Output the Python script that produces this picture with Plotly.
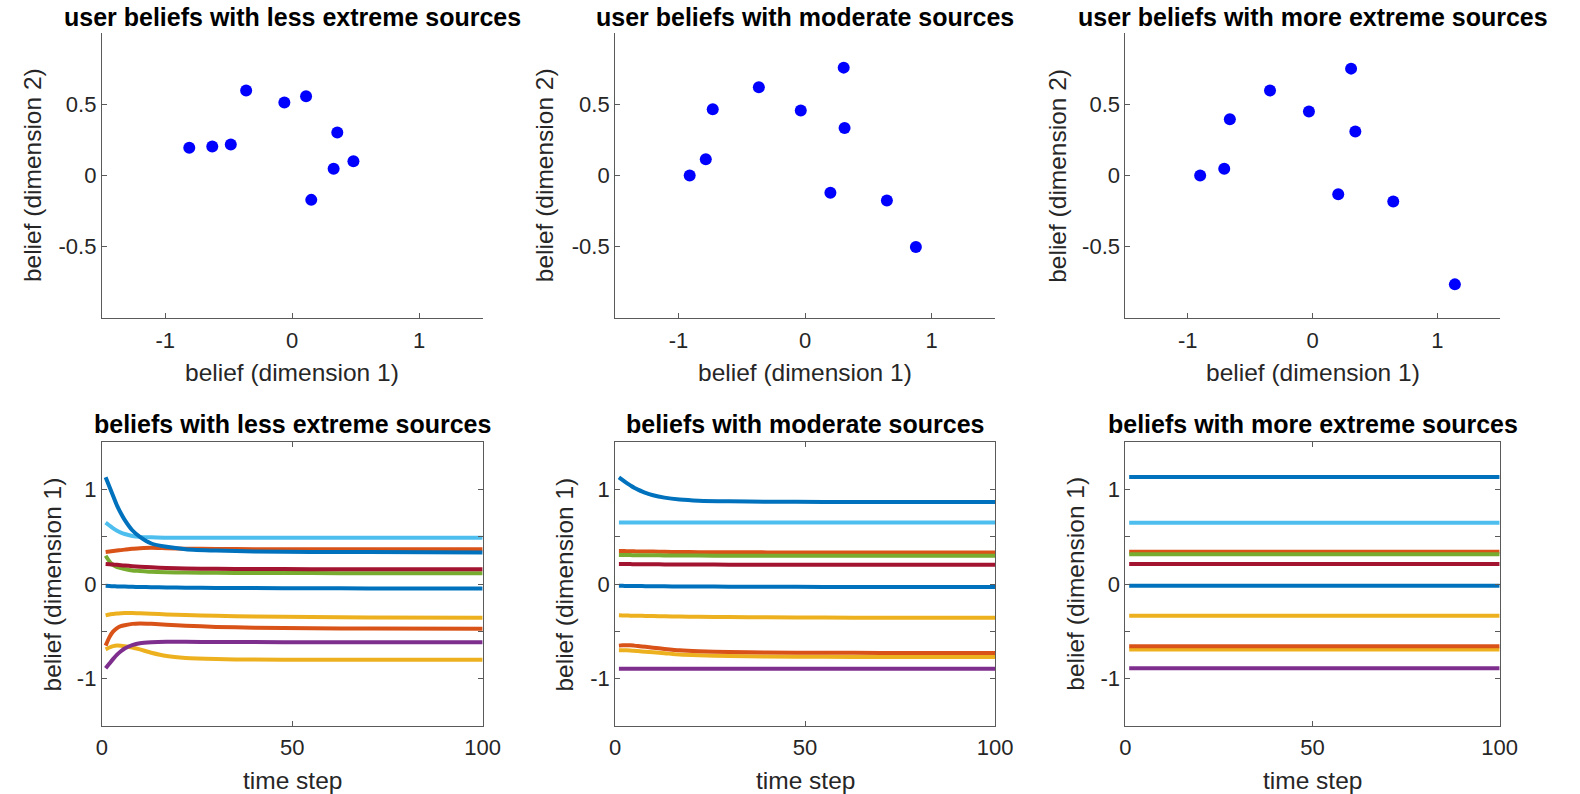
import plotly.graph_objects as go

# ---------------- data ----------------
scatter_titles = ["user beliefs with less extreme sources",
                  "user beliefs with moderate sources",
                  "user beliefs with more extreme sources"]
line_titles = ["beliefs with less extreme sources",
               "beliefs with moderate sources",
               "beliefs with more extreme sources"]

# final user beliefs (dimension 1, dimension 2)
less_dim1 = [-0.811, -0.630, -0.484, -0.363, -0.062, 0.109, 0.355, 0.482, 0.326, 0.150]
less_dim2 = [0.194, 0.203, 0.217, 0.596, 0.512, 0.556, 0.301, 0.100, 0.047, -0.171]
moderate_dim1 = [-0.911, -0.784, -0.729, -0.365, -0.034, 0.305, 0.312, 0.200, 0.646, 0.875]
moderate_dim2 = [0.000, 0.114, 0.465, 0.619, 0.456, 0.757, 0.334, -0.121, -0.175, -0.502]
more_dim1 = [-0.901, -0.708, -0.663, -0.341, -0.029, 0.309, 0.343, 0.206, 0.647, 1.141]
more_dim2 = [0.000, 0.047, 0.395, 0.596, 0.449, 0.750, 0.308, -0.131, -0.182, -0.764]

# belief (dimension 1) over time, read at these time steps
time_steps = [1, 2, 3, 4, 5, 6, 8, 10, 13, 17, 22, 30, 40, 55, 70, 100]

less_series = [
    [-0.018, -0.02, -0.022, -0.024, -0.025, -0.026, -0.028, -0.03, -0.032, -0.035, -0.037, -0.04, -0.042, -0.044, -0.045, -0.045],
    [0.34, 0.345, 0.35, 0.355, 0.36, 0.365, 0.375, 0.38, 0.385, 0.38, 0.375, 0.372, 0.37, 0.37, 0.37, 0.37],
    [-0.69, -0.67, -0.655, -0.65, -0.652, -0.657, -0.67, -0.69, -0.725, -0.76, -0.78, -0.792, -0.798, -0.80, -0.80, -0.80],
    [-0.89, -0.84, -0.79, -0.745, -0.71, -0.68, -0.645, -0.625, -0.615, -0.61, -0.61, -0.612, -0.613, -0.614, -0.615, -0.615],
    [0.30, 0.24, 0.20, 0.18, 0.17, 0.16, 0.145, 0.14, 0.13, 0.125, 0.122, 0.12, 0.118, 0.117, 0.116, 0.116],
    [0.65, 0.62, 0.59, 0.565, 0.545, 0.53, 0.51, 0.50, 0.495, 0.49, 0.49, 0.49, 0.49, 0.49, 0.49, 0.49],
    [0.213, 0.21, 0.207, 0.204, 0.2, 0.197, 0.19, 0.185, 0.178, 0.17, 0.165, 0.162, 0.16, 0.158, 0.157, 0.157],
    [1.13, 1.03, 0.93, 0.83, 0.75, 0.68, 0.57, 0.50, 0.43, 0.395, 0.37, 0.355, 0.345, 0.34, 0.34, 0.335],
    [-0.65, -0.56, -0.50, -0.465, -0.445, -0.435, -0.42, -0.415, -0.42, -0.43, -0.44, -0.452, -0.46, -0.467, -0.47, -0.472],
    [-0.33, -0.32, -0.315, -0.31, -0.307, -0.305, -0.305, -0.308, -0.313, -0.32, -0.327, -0.335, -0.342, -0.348, -0.352, -0.355],
]

moderate_series = [
    [-0.018, -0.018, -0.019, -0.019, -0.02, -0.02, -0.021, -0.022, -0.023, -0.024, -0.025, -0.027, -0.028, -0.029, -0.03, -0.03],
    [0.35, 0.35, 0.349, 0.348, 0.347, 0.346, 0.345, 0.344, 0.342, 0.34, 0.338, 0.337, 0.336, 0.335, 0.335, 0.335],
    [-0.70, -0.70, -0.70, -0.702, -0.705, -0.708, -0.714, -0.72, -0.73, -0.745, -0.753, -0.76, -0.765, -0.768, -0.77, -0.77],
    [-0.895, -0.895, -0.895, -0.895, -0.895, -0.895, -0.895, -0.895, -0.895, -0.895, -0.895, -0.895, -0.895, -0.895, -0.895, -0.895],
    [0.308, 0.308, 0.307, 0.307, 0.306, 0.306, 0.305, 0.305, 0.304, 0.303, 0.302, 0.301, 0.30, 0.30, 0.30, 0.30],
    [0.652, 0.652, 0.652, 0.652, 0.652, 0.652, 0.652, 0.652, 0.652, 0.652, 0.652, 0.652, 0.652, 0.652, 0.652, 0.652],
    [0.213, 0.213, 0.212, 0.212, 0.211, 0.211, 0.21, 0.21, 0.209, 0.208, 0.207, 0.206, 0.205, 0.205, 0.205, 0.205],
    [1.13, 1.10, 1.07, 1.045, 1.02, 1.0, 0.965, 0.94, 0.915, 0.895, 0.883, 0.876, 0.872, 0.87, 0.87, 0.87],
    [-0.65, -0.647, -0.645, -0.646, -0.65, -0.655, -0.663, -0.672, -0.685, -0.70, -0.71, -0.718, -0.723, -0.726, -0.727, -0.727],
    [-0.33, -0.331, -0.332, -0.333, -0.334, -0.335, -0.336, -0.338, -0.34, -0.342, -0.345, -0.348, -0.351, -0.353, -0.355, -0.355],
]

const_steps = [1, 100]
more_levels = [-0.018, 0.343, -0.69, -0.89, 0.316, 0.649, 0.214, 1.133, -0.656, -0.334]

matlab_colors = ["#0072BD", "#D95319", "#EDB120", "#7E2F8E", "#77AC30", "#4DBEEE", "#A2142F"]

x_ticks_top = [-1, 0, 1]
x_ticklabels_top = ["-1", "0", "1"]
y_ticks_top = [-0.5, 0, 0.5]
y_ticklabels_top = ["-0.5", "0", "0.5"]
x_ticks_bottom = [0, 50, 100]
y_ticks_bottom = [-1, -0.5, 0, 0.5, 1]
y_ticklabels_bottom = ["-1", "", "0", "", "1"]

# ---------------- layout geometry (pixels) ----------------
W, H = 1580, 794
col_px = [(97.3, 484.0), (618.5, 1004.3), (1136.7, 1516.7)]
top_px = (33.0, 318.0)
bot_px = (442.3, 726.0)


def px_x(p):
    return p / W


def px_y(p):
    return 1 - p / H


FONT = "Liberation Sans, Arial, Helvetica, sans-serif"
TXT = "#262626"
AX = "#5a5a5a"
TITLE_SIZE = 25
LABEL_SIZE = 24.5

fig = go.Figure()

scatter_x = [less_dim1, moderate_dim1, more_dim1]
scatter_y = [less_dim2, moderate_dim2, more_dim2]
line_data = [less_series, moderate_series, None]

layout = dict(
    width=W, height=H,
    margin=dict(l=0, r=0, t=0, b=0),
    paper_bgcolor="white", plot_bgcolor="white",
    showlegend=False,
    font=dict(family=FONT, size=22, color=TXT),
)

annotations = []
for c in range(3):
    # ---- top scatter ----
    ia = c + 1
    xa = "x" if ia == 1 else f"x{ia}"
    ya = "y" if ia == 1 else f"y{ia}"
    fig.add_trace(go.Scatter(
        x=scatter_x[c], y=scatter_y[c], mode="markers",
        marker=dict(color="#0000FF", size=12, line=dict(width=0)),
        xaxis=xa, yaxis=ya, hoverinfo="skip"))
    layout["xaxis" if ia == 1 else f"xaxis{ia}"] = dict(
        domain=[px_x(col_px[c][0]), px_x(col_px[c][1])], anchor=ya,
        range=[-1.5, 1.5], tickvals=x_ticks_top, ticktext=x_ticklabels_top,
        ticks="inside", ticklen=5, ticklabelstandoff=3,
        tickcolor=AX, showline=True, linecolor=AX, linewidth=1, mirror=False,
        showgrid=False, zeroline=False, tickfont=dict(size=22, color=TXT))
    layout["yaxis" if ia == 1 else f"yaxis{ia}"] = dict(
        domain=[px_y(top_px[1]), px_y(top_px[0])], anchor=xa,
        range=[-1, 1], tickvals=y_ticks_top, ticktext=y_ticklabels_top,
        ticks="inside", ticklen=5, tickcolor=AX, showline=True, linecolor=AX,
        linewidth=1, mirror=False, showgrid=False, zeroline=False,
        tickfont=dict(size=22, color=TXT))

    # ---- bottom lines ----
    ib = c + 4
    xb, yb = f"x{ib}", f"y{ib}"
    for i in range(10):
        if line_data[c] is not None:
            tx, ty = time_steps, line_data[c][i]
        else:
            tx, ty = const_steps, [more_levels[i], more_levels[i]]
        fig.add_trace(go.Scatter(
            x=tx, y=ty, mode="lines",
            line=dict(color=matlab_colors[i % 7], width=4, shape="spline", smoothing=0.6),
            xaxis=xb, yaxis=yb, hoverinfo="skip"))
    layout[f"xaxis{ib}"] = dict(
        domain=[px_x(col_px[c][0]), px_x(col_px[c][1])], anchor=yb,
        range=[0, 100], tickvals=x_ticks_bottom, ticks="inside", ticklen=5,
        ticklabelstandoff=2,
        tickcolor=AX, showline=True, linecolor=AX, linewidth=1, mirror="ticks",
        showgrid=False, zeroline=False, tickfont=dict(size=22, color=TXT))
    layout[f"yaxis{ib}"] = dict(
        domain=[px_y(bot_px[1]), px_y(bot_px[0])], anchor=xb,
        range=[-1.5, 1.5], tickvals=y_ticks_bottom, ticktext=y_ticklabels_bottom,
        ticks="inside", ticklen=5, tickcolor=AX, showline=True, linecolor=AX,
        linewidth=1, mirror="ticks", showgrid=False, zeroline=False,
        tickfont=dict(size=22, color=TXT))

    cx = px_x((col_px[c][0] + col_px[c][1]) / 2)
    # titles
    annotations.append(dict(text=f"<b>{scatter_titles[c]}</b>", x=cx, y=px_y(17),
                            xref="paper", yref="paper", xanchor="center", yanchor="middle",
                            showarrow=False, font=dict(size=TITLE_SIZE, color="black", family=FONT)))
    annotations.append(dict(text=f"<b>{line_titles[c]}</b>", x=cx, y=px_y(424),
                            xref="paper", yref="paper", xanchor="center", yanchor="middle",
                            showarrow=False, font=dict(size=TITLE_SIZE, color="black", family=FONT)))
    # axis labels
    annotations.append(dict(text="belief (dimension 1)", x=cx, y=px_y(372),
                            xref="paper", yref="paper", xanchor="center", yanchor="middle",
                            showarrow=False, font=dict(size=LABEL_SIZE, color=TXT, family=FONT)))
    annotations.append(dict(text="time step", x=cx, y=px_y(780),
                            xref="paper", yref="paper", xanchor="center", yanchor="middle",
                            showarrow=False, font=dict(size=LABEL_SIZE, color=TXT, family=FONT)))
    ylab_top_x = [27, 547, 1067.5][c]
    ylab_bot_x = [47, 567, 1086][c]
    annotations.append(dict(text="belief (dimension 2)", x=px_x(ylab_top_x), y=px_y((top_px[0] + top_px[1]) / 2),
                            xref="paper", yref="paper", xanchor="center", yanchor="middle",
                            textangle=-90, showarrow=False, font=dict(size=LABEL_SIZE, color=TXT, family=FONT)))
    annotations.append(dict(text="belief (dimension 1)", x=px_x(ylab_bot_x), y=px_y((bot_px[0] + bot_px[1]) / 2),
                            xref="paper", yref="paper", xanchor="center", yanchor="middle",
                            textangle=-90, showarrow=False, font=dict(size=LABEL_SIZE, color=TXT, family=FONT)))

layout["annotations"] = annotations
fig.update_layout(**layout)
fig.write_html("out.html",
               config={"displayModeBar": False},
               post_script="document.body.style.margin='0';document.body.style.overflow='hidden';")
